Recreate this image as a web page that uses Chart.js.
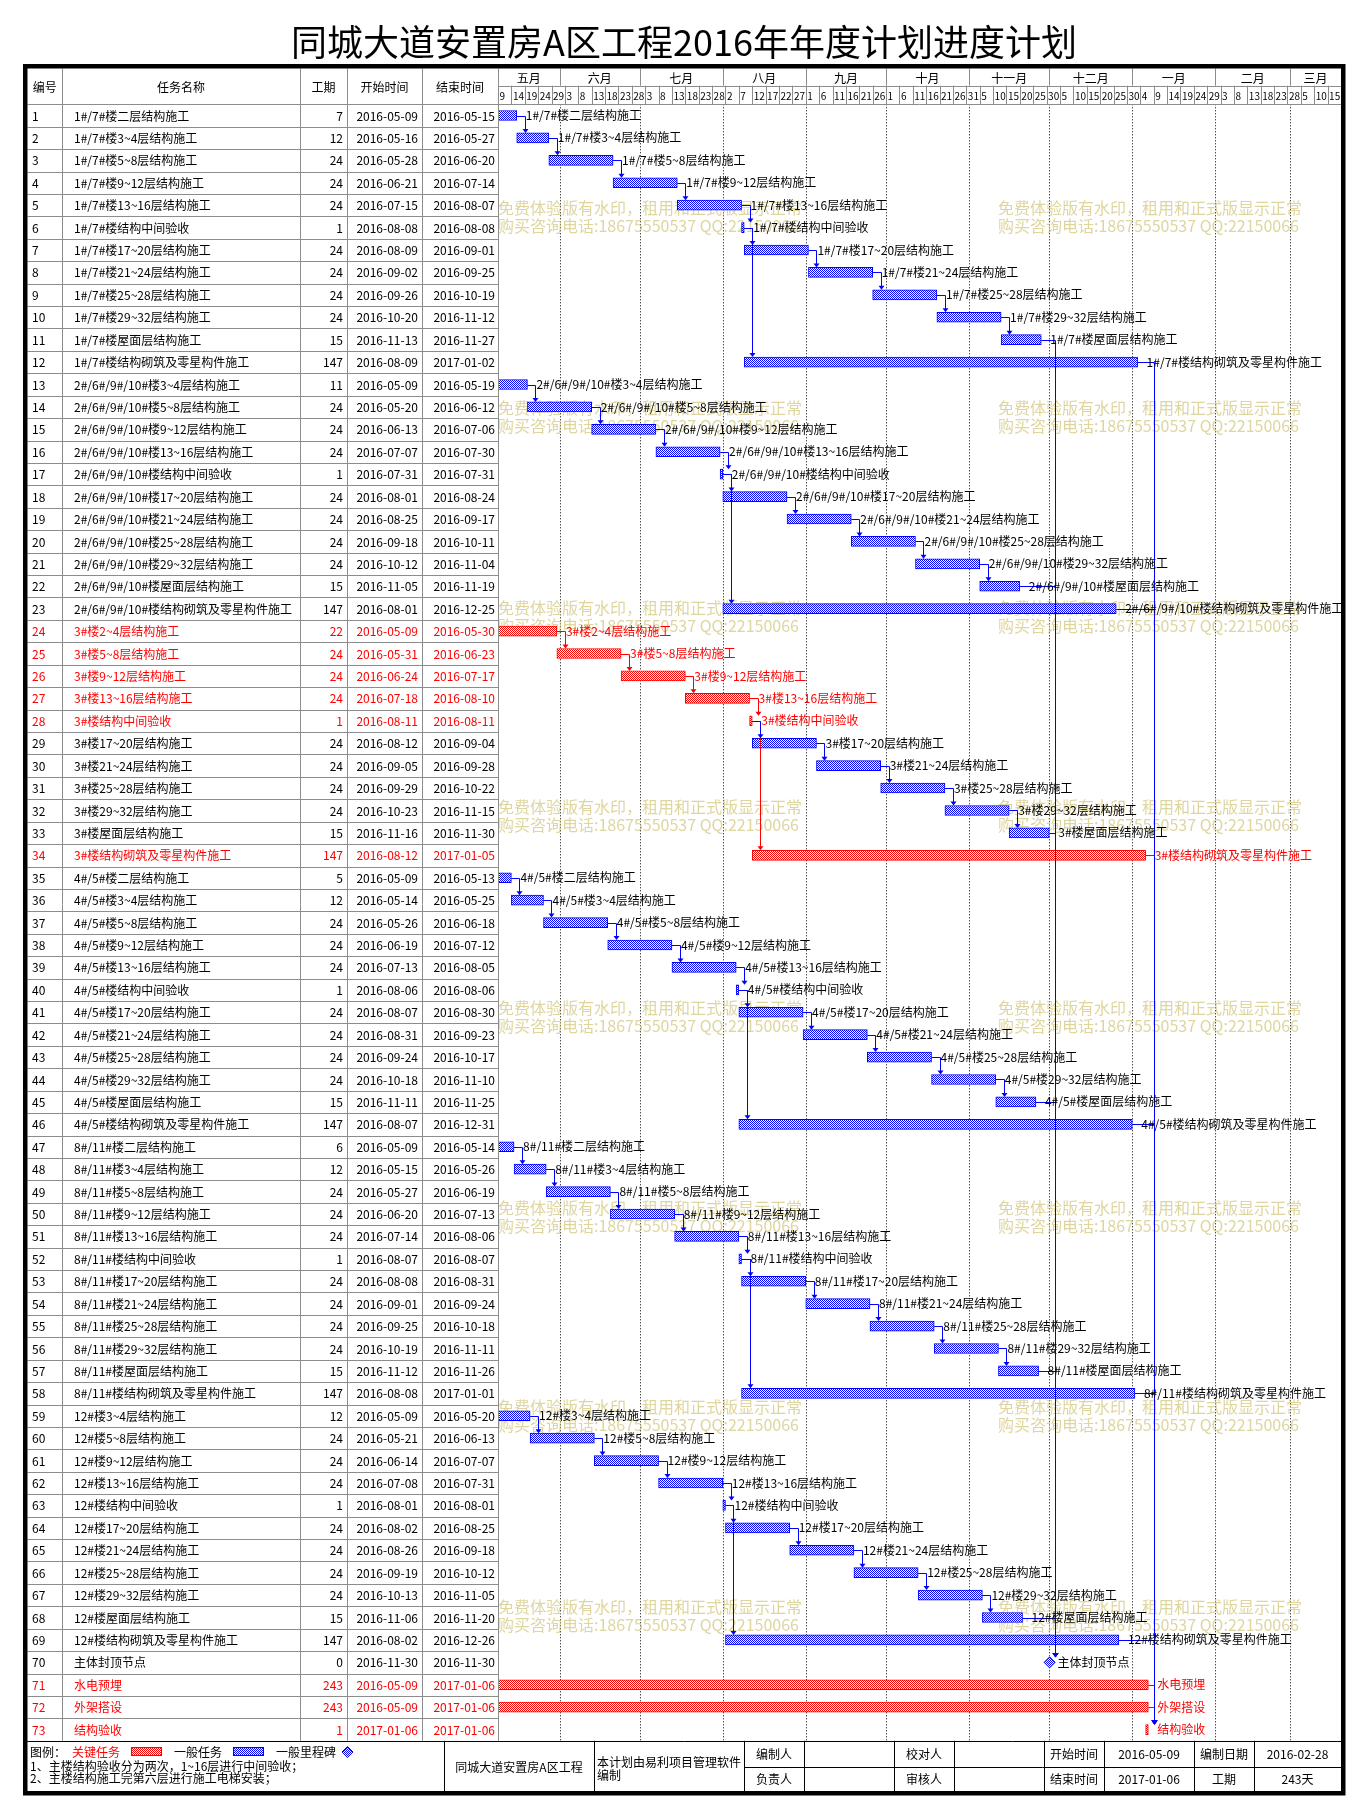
<!DOCTYPE html>
<html lang="zh-CN">
<head>
<meta charset="utf-8">
<title>同城大道安置房A区工程2016年年度计划进度计划</title>
<script src="https://cdn.jsdelivr.net/npm/chart.js@4.4.1/dist/chart.umd.min.js"></script>
<style>
    html, body { margin: 0; padding: 0; background: #fff; }
    #gantt { display: block; }
</style>
</head>
<body>
<canvas id="gantt" width="1368" height="1817"></canvas>
<script>
/* ========================================
   年度计划进度 — 横道图 (Chart.js floating bars)
   ======================================== */

const FONT = '"Noto Sans CJK SC", "Noto Sans", sans-serif';
const BLUE = '#0000ff';
const RED = '#ff0000';
const GRID = '#8c8c8c';

const chartTitle = '同城大道安置房A区工程2016年年度计划进度计划';

// ---- time axis ----
const axisStart = '2016-05-09';
const axisEnd = '2017-03-20';
const monthNames = ['五月', '六月', '七月', '八月', '九月', '十月', '十一月', '十二月', '一月', '二月', '三月'];
const monthStarts = ['2016-05-09', '2016-06-01', '2016-07-01', '2016-08-01', '2016-09-01', '2016-10-01',
    '2016-11-01', '2016-12-01', '2017-01-01', '2017-02-01', '2017-03-01'];
const dayTicks = [9, 14, 19, 24, 29, 3, 8, 13, 18, 23, 28, 3, 8, 13, 18, 23, 28, 2, 7, 12, 17, 22, 27,
    1, 6, 11, 16, 21, 26, 1, 6, 11, 16, 21, 26, 31, 5, 10, 15, 20, 25, 30, 5, 10, 15, 20, 25, 30,
    4, 9, 14, 19, 24, 29, 3, 8, 13, 18, 23, 28, 5, 10, 15];

// ---- tasks ----
const taskNames = [
    '1#/7#楼二层结构施工', '1#/7#楼3~4层结构施工', '1#/7#楼5~8层结构施工', '1#/7#楼9~12层结构施工',
    '1#/7#楼13~16层结构施工', '1#/7#楼结构中间验收', '1#/7#楼17~20层结构施工', '1#/7#楼21~24层结构施工',
    '1#/7#楼25~28层结构施工', '1#/7#楼29~32层结构施工', '1#/7#楼屋面层结构施工', '1#/7#楼结构砌筑及零星构件施工',
    '2#/6#/9#/10#楼3~4层结构施工', '2#/6#/9#/10#楼5~8层结构施工', '2#/6#/9#/10#楼9~12层结构施工',
    '2#/6#/9#/10#楼13~16层结构施工', '2#/6#/9#/10#楼结构中间验收', '2#/6#/9#/10#楼17~20层结构施工',
    '2#/6#/9#/10#楼21~24层结构施工', '2#/6#/9#/10#楼25~28层结构施工', '2#/6#/9#/10#楼29~32层结构施工',
    '2#/6#/9#/10#楼屋面层结构施工', '2#/6#/9#/10#楼结构砌筑及零星构件施工',
    '3#楼2~4层结构施工', '3#楼5~8层结构施工', '3#楼9~12层结构施工', '3#楼13~16层结构施工', '3#楼结构中间验收',
    '3#楼17~20层结构施工', '3#楼21~24层结构施工', '3#楼25~28层结构施工', '3#楼29~32层结构施工',
    '3#楼屋面层结构施工', '3#楼结构砌筑及零星构件施工',
    '4#/5#楼二层结构施工', '4#/5#楼3~4层结构施工', '4#/5#楼5~8层结构施工', '4#/5#楼9~12层结构施工',
    '4#/5#楼13~16层结构施工', '4#/5#楼结构中间验收', '4#/5#楼17~20层结构施工', '4#/5#楼21~24层结构施工',
    '4#/5#楼25~28层结构施工', '4#/5#楼29~32层结构施工', '4#/5#楼屋面层结构施工', '4#/5#楼结构砌筑及零星构件施工',
    '8#/11#楼二层结构施工', '8#/11#楼3~4层结构施工', '8#/11#楼5~8层结构施工', '8#/11#楼9~12层结构施工',
    '8#/11#楼13~16层结构施工', '8#/11#楼结构中间验收', '8#/11#楼17~20层结构施工', '8#/11#楼21~24层结构施工',
    '8#/11#楼25~28层结构施工', '8#/11#楼29~32层结构施工', '8#/11#楼屋面层结构施工', '8#/11#楼结构砌筑及零星构件施工',
    '12#楼3~4层结构施工', '12#楼5~8层结构施工', '12#楼9~12层结构施工', '12#楼13~16层结构施工', '12#楼结构中间验收',
    '12#楼17~20层结构施工', '12#楼21~24层结构施工', '12#楼25~28层结构施工', '12#楼29~32层结构施工',
    '12#楼屋面层结构施工', '12#楼结构砌筑及零星构件施工',
    '主体封顶节点', '水电预埋', '外架搭设', '结构验收'
];

const durations = [
    7, 12, 24, 24, 24, 1, 24, 24, 24, 24, 15, 147,
    11, 24, 24, 24, 1, 24, 24, 24, 24, 15, 147,
    22, 24, 24, 24, 1, 24, 24, 24, 24, 15, 147,
    5, 12, 24, 24, 24, 1, 24, 24, 24, 24, 15, 147,
    6, 12, 24, 24, 24, 1, 24, 24, 24, 24, 15, 147,
    12, 24, 24, 24, 1, 24, 24, 24, 24, 15, 147,
    0, 243, 243, 1
];

const startDates = [
    '2016-05-09', '2016-05-16', '2016-05-28', '2016-06-21', '2016-07-15', '2016-08-08', '2016-08-09', '2016-09-02',
    '2016-09-26', '2016-10-20', '2016-11-13', '2016-08-09',
    '2016-05-09', '2016-05-20', '2016-06-13', '2016-07-07', '2016-07-31', '2016-08-01', '2016-08-25', '2016-09-18',
    '2016-10-12', '2016-11-05', '2016-08-01',
    '2016-05-09', '2016-05-31', '2016-06-24', '2016-07-18', '2016-08-11', '2016-08-12', '2016-09-05', '2016-09-29',
    '2016-10-23', '2016-11-16', '2016-08-12',
    '2016-05-09', '2016-05-14', '2016-05-26', '2016-06-19', '2016-07-13', '2016-08-06', '2016-08-07', '2016-08-31',
    '2016-09-24', '2016-10-18', '2016-11-11', '2016-08-07',
    '2016-05-09', '2016-05-15', '2016-05-27', '2016-06-20', '2016-07-14', '2016-08-07', '2016-08-08', '2016-09-01',
    '2016-09-25', '2016-10-19', '2016-11-12', '2016-08-08',
    '2016-05-09', '2016-05-21', '2016-06-14', '2016-07-08', '2016-08-01', '2016-08-02', '2016-08-26', '2016-09-19',
    '2016-10-13', '2016-11-06', '2016-08-02',
    '2016-11-30', '2016-05-09', '2016-05-09', '2017-01-06'
];

const endDates = [
    '2016-05-15', '2016-05-27', '2016-06-20', '2016-07-14', '2016-08-07', '2016-08-08', '2016-09-01', '2016-09-25',
    '2016-10-19', '2016-11-12', '2016-11-27', '2017-01-02',
    '2016-05-19', '2016-06-12', '2016-07-06', '2016-07-30', '2016-07-31', '2016-08-24', '2016-09-17', '2016-10-11',
    '2016-11-04', '2016-11-19', '2016-12-25',
    '2016-05-30', '2016-06-23', '2016-07-17', '2016-08-10', '2016-08-11', '2016-09-04', '2016-09-28', '2016-10-22',
    '2016-11-15', '2016-11-30', '2017-01-05',
    '2016-05-13', '2016-05-25', '2016-06-18', '2016-07-12', '2016-08-05', '2016-08-06', '2016-08-30', '2016-09-23',
    '2016-10-17', '2016-11-10', '2016-11-25', '2016-12-31',
    '2016-05-14', '2016-05-26', '2016-06-19', '2016-07-13', '2016-08-06', '2016-08-07', '2016-08-31', '2016-09-24',
    '2016-10-18', '2016-11-11', '2016-11-26', '2017-01-01',
    '2016-05-20', '2016-06-13', '2016-07-07', '2016-07-31', '2016-08-01', '2016-08-25', '2016-09-18', '2016-10-12',
    '2016-11-05', '2016-11-20', '2016-12-26',
    '2016-11-30', '2017-01-06', '2017-01-06', '2017-01-06'
];

const criticalTasks = [24, 25, 26, 27, 28, 34, 71, 72, 73];

// predecessor -> successor
const links = [
    [1, 2], [2, 3], [3, 4], [4, 5], [5, 6], [6, 7], [7, 8], [8, 9], [9, 10], [10, 11], [11, 70], [6, 12], [12, 73],
    [13, 14], [14, 15], [15, 16], [16, 17], [17, 18], [18, 19], [19, 20], [20, 21], [21, 22], [22, 70], [17, 23], [23, 73],
    [24, 25], [25, 26], [26, 27], [27, 28], [28, 29], [29, 30], [30, 31], [31, 32], [32, 33], [33, 70], [28, 34], [34, 73],
    [35, 36], [36, 37], [37, 38], [38, 39], [39, 40], [40, 41], [41, 42], [42, 43], [43, 44], [44, 45], [45, 70], [40, 46], [46, 73],
    [47, 48], [48, 49], [49, 50], [50, 51], [51, 52], [52, 53], [53, 54], [54, 55], [55, 56], [56, 57], [57, 70], [52, 58], [58, 73],
    [59, 60], [60, 61], [61, 62], [62, 63], [63, 64], [64, 65], [65, 66], [66, 67], [67, 68], [68, 70], [63, 69], [69, 73],
    [71, 73], [72, 73]
];

// ---- footer ----
const legendNotes = ['1、主楼结构验收分为两次，1~16层进行中间验收；', '2、主楼结构施工完第六层进行施工电梯安装；'];
const projectName = '同城大道安置房A区工程';
const softwareNote = ['本计划由易利项目管理软件', '编制'];
const planStart = '2016-05-09';
const planEnd = '2017-01-06';
const planDate = '2016-02-28';
const planDays = '243天';

const watermark = ['免费体验版有水印，租用和正式版显示正常', '购买咨询电话:18675550537 QQ:22150066'];

/* ---------- helpers ---------- */
const DAY = 86400000;
const dayIndex = d => Math.round((Date.parse(d) - Date.parse(axisStart)) / DAY);
const totalDays = dayIndex(axisEnd);
const startDay = startDates.map(dayIndex);
const endDay = endDates.map((d, i) => durations[i] === 0 ? dayIndex(d) : dayIndex(d) + 1);
const isCritical = i => criticalTasks.includes(i + 1);
const taskNos = taskNames.map((_, i) => String(i + 1));
const taskBars = taskNames.map((_, i) => durations[i] === 0 ? null : [startDay[i], endDay[i]]);

function makePattern(color) {
    const c = document.createElement('canvas');
    c.width = 2; c.height = 2;
    const g = c.getContext('2d');
    g.fillStyle = '#ffffff';
    g.fillRect(0, 0, 2, 2);
    g.fillStyle = color;
    g.fillRect(0, 0, 1, 1);
    g.fillRect(1, 1, 1, 1);
    return g.createPattern(c, 'repeat');
}
const bluePattern = makePattern(BLUE);
const redPattern = makePattern(RED);

function txt(ctx, s, x, y, align = 'left', color = '#000', size = 12) {
    ctx.fillStyle = color;
    ctx.font = `${size}px ${FONT}`;
    ctx.textAlign = align;
    ctx.textBaseline = 'middle';
    ctx.fillText(s, x, y);
}

function hline(ctx, x1, x2, y) {
    const yy = Math.round(y) + 0.5;
    ctx.beginPath(); ctx.moveTo(x1, yy); ctx.lineTo(x2, yy); ctx.stroke();
}

function vline(ctx, x, y1, y2) {
    const xx = Math.round(x) + 0.5;
    ctx.beginPath(); ctx.moveTo(xx, y1); ctx.lineTo(xx, y2); ctx.stroke();
}

function diamond(ctx, cx, cy, r) {
    ctx.beginPath();
    ctx.moveTo(cx, cy - r); ctx.lineTo(cx + r, cy); ctx.lineTo(cx, cy + r); ctx.lineTo(cx - r, cy);
    ctx.closePath();
    ctx.fillStyle = bluePattern; ctx.fill();
    ctx.strokeStyle = BLUE; ctx.lineWidth = 1; ctx.stroke();
}

/* ---------- plugin: grid, links, table, header, footer ---------- */
const ganttPlugin = {
    id: 'ganttFrame',

    beforeDatasetsDraw(chart) {
        const { ctx, chartArea: a, scales: { x } } = chart;
        ctx.save();

        // month dotted lines
        ctx.strokeStyle = '#000';
        ctx.lineWidth = 1;
        ctx.setLineDash([1, 2]);
        monthStarts.slice(1).forEach(d => vline(ctx, x.getPixelForValue(dayIndex(d)), a.top, a.bottom));
        ctx.setLineDash([]);

        // trial watermark
        const wmY = [208, 408, 608, 807, 1008, 1208, 1407, 1607];
        ctx.font = `16px ${FONT}`;
        ctx.fillStyle = 'rgba(200, 185, 95, 0.6)';
        ctx.textAlign = 'left';
        ctx.textBaseline = 'middle';
        for (const y of wmY) {
            for (const wx of [a.left, a.left + 500]) {
                ctx.fillText(watermark[0], wx, y);
                ctx.fillText(watermark[1], wx, y + 18);
            }
        }
        ctx.restore();
    },

    afterDatasetsDraw(chart) {
        const { ctx, scales: { x, y } } = chart;
        ctx.save();
        ctx.lineWidth = 1;

        const drawLink = (from, to, color) => {
            const f = from - 1, t = to - 1;
            const x1 = x.getPixelForValue(endDay[f]);
            const y1 = Math.round(y.getPixelForValue(f)) + 0.5;
            const xa = Math.round(x.getPixelForValue(startDay[t]) + 8) + 0.5;
            const tip = y.getPixelForValue(t) - 5;
            ctx.strokeStyle = color;
            ctx.fillStyle = color;
            ctx.beginPath();
            ctx.moveTo(x1, y1); ctx.lineTo(xa, y1); ctx.lineTo(xa, tip - 3);
            ctx.stroke();
            ctx.beginPath();
            ctx.moveTo(xa - 3, tip - 4); ctx.lineTo(xa + 3, tip - 4); ctx.lineTo(xa, tip);
            ctx.closePath();
            ctx.fill();
        };
        // critical links underneath, ordinary links on top (shared verticals stay blue)
        const critLink = ([f, t]) => isCritical(f - 1) && isCritical(t - 1);
        links.filter(critLink).forEach(([f, t]) => drawLink(f, t, RED));
        links.filter(l => !critLink(l)).forEach(([f, t]) => drawLink(f, t, BLUE));

        // milestones + bar labels
        taskNames.forEach((name, i) => {
            const cy = y.getPixelForValue(i);
            let lx;
            if (durations[i] === 0) {
                const cx = x.getPixelForValue(startDay[i]) + 3;
                diamond(ctx, cx, cy, 5.5);
                lx = cx + 8;
            } else {
                lx = x.getPixelForValue(endDay[i]) + 9;
            }
            txt(ctx, name, lx, cy, 'left', isCritical(i) ? RED : '#000');
        });
        ctx.restore();
    },

    afterDraw(chart) {
        const { ctx, chartArea: a, scales: { x, y } } = chart;
        const rowH = (a.bottom - a.top) / taskNames.length;
        const top = 68.5, left = 27.5, right = a.right;
        const midHead = 85.7;
        const cols = [left, 62, 300, 347, 422, a.left];
        ctx.save();
        ctx.lineWidth = 1;

        // title
        txt(ctx, chartTitle, 684, 42, 'center', '#000', 36);

        // ---- table grid ----
        ctx.strokeStyle = GRID;
        for (let i = 0; i <= taskNames.length; i++) hline(ctx, left, a.left, a.top + i * rowH);
        cols.slice(1).forEach(cx => vline(ctx, cx, top, a.bottom));
        hline(ctx, a.left, right, a.top);

        // gantt header: months / 5-day cells
        hline(ctx, a.left, right, midHead);
        monthStarts.forEach((d, i) => {
            const x0 = x.getPixelForValue(dayIndex(d));
            const x1 = x.getPixelForValue(i + 1 < monthStarts.length ? dayIndex(monthStarts[i + 1]) : totalDays);
            if (i > 0) vline(ctx, x0, top, midHead);
            txt(ctx, monthNames[i], (x0 + x1) / 2, (top + midHead) / 2 + 1, 'center', '#000', 12);
        });
        dayTicks.forEach((dnum, i) => {
            const x0 = x.getPixelForValue(i * 5);
            if (i > 0) vline(ctx, x0, midHead, a.top);
            txt(ctx, String(dnum), x0 + 1.5, (midHead + a.top) / 2 + 1, 'left', '#000', 10);
        });

        // table header
        const headY = (top + a.top) / 2 + 1;
        ['编号', '任务名称', '工期', '开始时间', '结束时间'].forEach((h, i) =>
            txt(ctx, h, (cols[i] + cols[i + 1]) / 2, headY, 'center'));

        // table rows
        taskNames.forEach((name, i) => {
            const cy = y.getPixelForValue(i) + 0.5;
            const c = isCritical(i) ? RED : '#000';
            txt(ctx, taskNos[i], 32, cy, 'left', c);
            txt(ctx, name, 74, cy, 'left', c);
            txt(ctx, String(durations[i]), cols[3] - 4, cy, 'right', c);
            txt(ctx, startDates[i], cols[4] - 4, cy, 'right', c);
            txt(ctx, endDates[i], cols[5] - 3, cy, 'right', c);
        });

        // ---- footer ----
        const fTop = a.bottom, fBot = 1791, fMid = 1767.3;
        ctx.strokeStyle = '#000';
        hline(ctx, left, right, fTop);
        hline(ctx, 744, right, fMid);
        [444, 594, 744, 804, 894, 954, 1044, 1104, 1194, 1254].forEach(fx => vline(ctx, fx, fTop, fBot));

        // legend
        const ly = 1752;
        txt(ctx, '图例：', 30, ly);
        txt(ctx, '关键任务', 72, ly, 'left', RED);
        ctx.fillStyle = redPattern; ctx.fillRect(131, 1748, 30, 8);
        ctx.strokeStyle = RED; ctx.strokeRect(131.5, 1747.5, 30, 8);
        txt(ctx, '一般任务', 174, ly);
        ctx.fillStyle = bluePattern; ctx.fillRect(233, 1748, 30, 8);
        ctx.strokeStyle = BLUE; ctx.strokeRect(233.5, 1747.5, 30, 8);
        txt(ctx, '一般里程碑', 276, ly);
        diamond(ctx, 347.5, ly, 5.5);
        txt(ctx, legendNotes[0], 30, 1766.5);
        txt(ctx, legendNotes[1], 30, 1778.5);

        txt(ctx, projectName, 519, 1767, 'center');
        txt(ctx, softwareNote[0], 597, 1762);
        txt(ctx, softwareNote[1], 597, 1775);

        const r1 = 1754.5, r2 = 1779.5;
        txt(ctx, '编制人', 774, r1, 'center');
        txt(ctx, '负责人', 774, r2, 'center');
        txt(ctx, '校对人', 924, r1, 'center');
        txt(ctx, '审核人', 924, r2, 'center');
        txt(ctx, '开始时间', 1074, r1, 'center');
        txt(ctx, '结束时间', 1074, r2, 'center');
        txt(ctx, planStart, 1149, r1, 'center');
        txt(ctx, planEnd, 1149, r2, 'center');
        txt(ctx, '编制日期', 1224, r1, 'center');
        txt(ctx, '工期', 1224, r2, 'center');
        txt(ctx, planDate, 1297.5, r1, 'center');
        txt(ctx, planDays, 1297.5, r2, 'center');

        // outer thick frame
        ctx.strokeStyle = '#000';
        ctx.lineWidth = 4.5;
        ctx.strokeRect(25.25, 66.25, 1318, 1727);
        ctx.restore();
    }
};

/* ---------- chart ---------- */
new Chart(document.getElementById('gantt'), {
    type: 'bar',
    data: {
        labels: taskNos,
        datasets: [{
            data: taskBars,
            backgroundColor: c => isCritical(c.dataIndex) ? redPattern : bluePattern,
            borderColor: c => isCritical(c.dataIndex) ? RED : BLUE,
            borderWidth: 1,
            borderSkipped: false,
            barThickness: 10,
        }]
    },
    options: {
        indexAxis: 'y',
        responsive: false,
        animation: false,
        devicePixelRatio: 1,
        layout: { padding: { left: 498, right: 27, top: 104.3, bottom: 76.2 } },
        plugins: { legend: { display: false }, tooltip: { enabled: false } },
        scales: {
            x: { type: 'linear', min: 0, max: totalDays, display: false },
            y: { type: 'category', offset: true, display: false }
        }
    },
    plugins: [ganttPlugin]
});
</script>
</body>
</html>
